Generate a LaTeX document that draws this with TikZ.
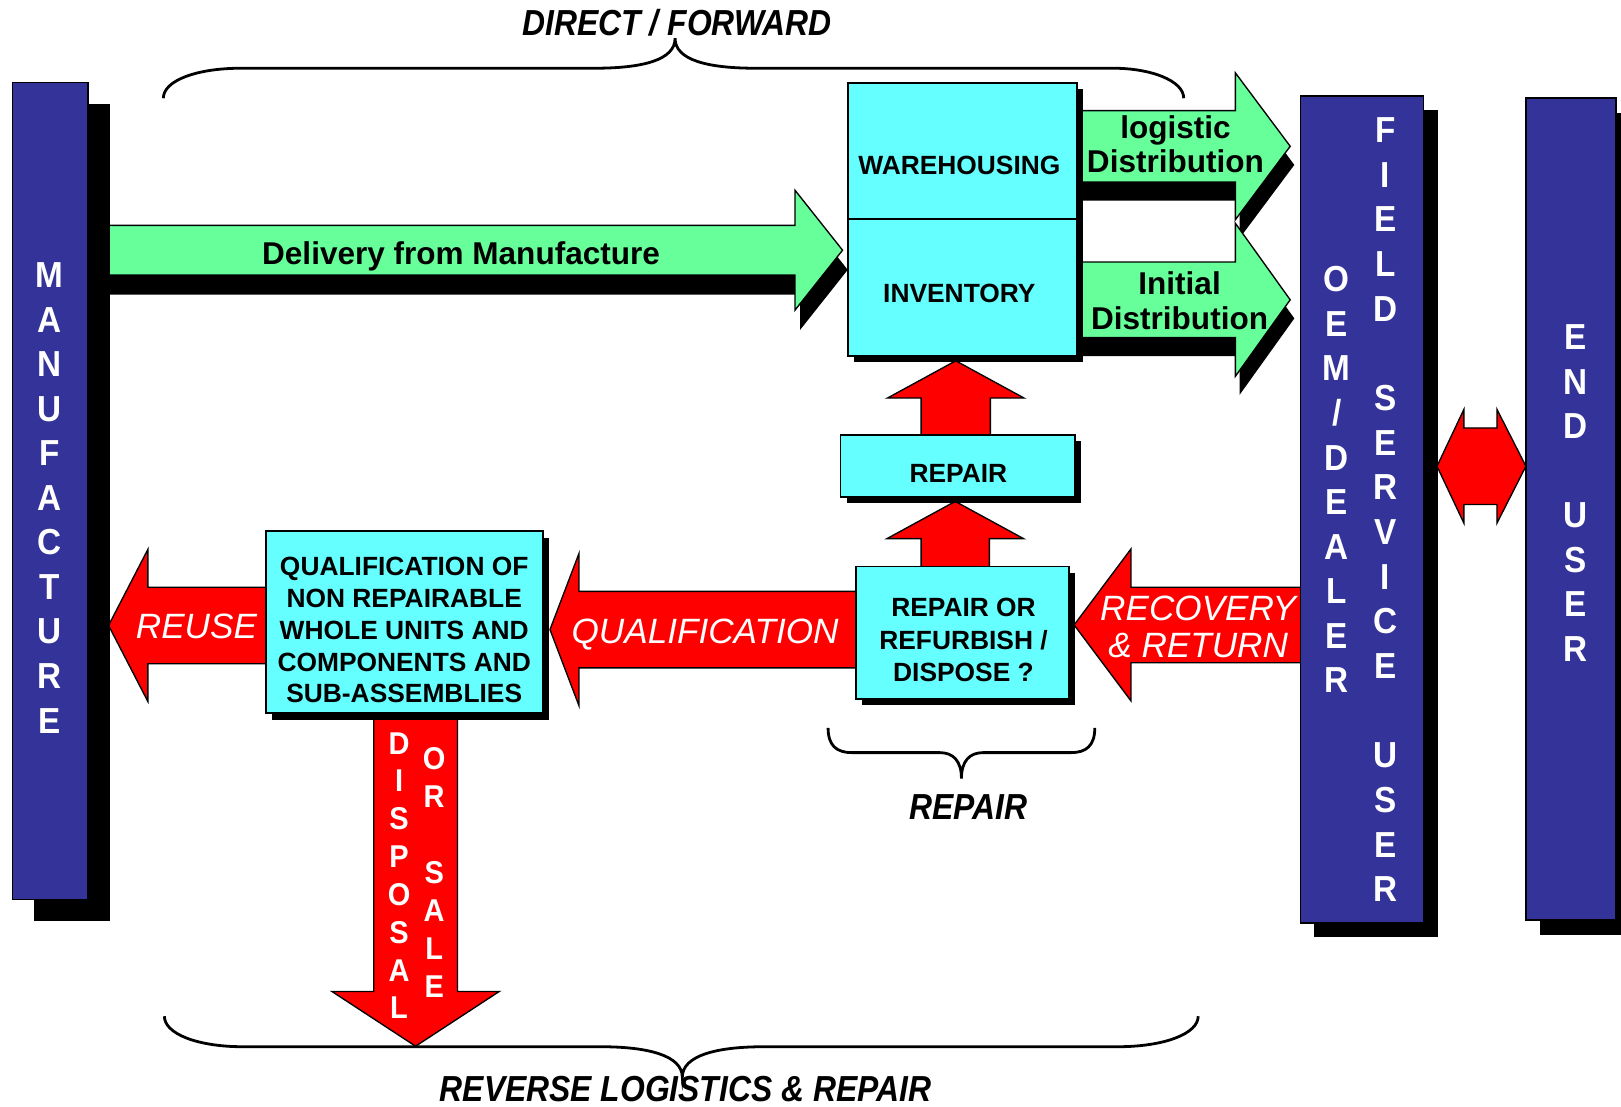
\documentclass[tikz,border=0pt]{standalone}
\usepackage{fontspec}
\setmainfont{Liberation Sans}
\newfontfamily\tallsans[FakeStretch=0.92]{Liberation Sans}
\newfontfamily\narrowsans[FakeStretch=0.88]{Liberation Sans}
\definecolor{navyfill}{HTML}{333399}
\definecolor{cyanfill}{HTML}{66FFFF}
\definecolor{greenfill}{HTML}{66FF99}

% horizontal block arrow: style, tail x, head base x, tip x, centre y, body half, head half
\newcommand{\blockarrowH}[7]{%
  \path[#1] (#2,{#5-#6}) -- (#3,{#5-#6}) -- (#3,{#5-#7}) -- (#4,#5)
    -- (#3,{#5+#7}) -- (#3,{#5+#6}) -- (#2,{#5+#6}) -- cycle;}
% vertical block arrow: style, tail y, head base y, tip y, centre x, body half, head half
\newcommand{\blockarrowV}[7]{%
  \path[#1] ({#5-#6},#2) -- ({#5-#6},#3) -- ({#5-#7},#3) -- (#5,#4)
    -- ({#5+#7},#3) -- ({#5+#6},#3) -- ({#5+#6},#2) -- cycle;}
% panel with a solid black drop shadow: name, style, x1, y1, x2, y2, shadow offset
\newcommand{\panelbox}[7]{%
  \fill[black] ({#3+#7},{#4+#7}) rectangle ({#5+#7},{#6+#7});
  \node[#2, minimum width={#5-#3}, minimum height={#6-#4}] (#1)
    at ({(#3+#5)/2},{(#4+#6)/2}) {};}

\begin{document}
\begin{tikzpicture}[x=1pt, y=-1pt, line join=miter,
  greenarrow/.style={fill=greenfill, draw=black, line width=1.3},
  redarrow/.style={fill=red, draw=black, line width=1.3},
  shadowfill/.style={fill=black},
  cbox/.style={draw=black, line width=1.8, fill=cyanfill, inner sep=0, outer sep=0},
  nbox/.style={draw=black, line width=1.5, fill=navyfill, inner sep=0, outer sep=0},
  bracestroke/.style={draw=black, line width=2.7},
  bracelabel/.style={font=\narrowsans\bfseries\itshape\fontsize{35}{42}\selectfont, inner sep=0},
  boxtext/.style={font=\bfseries\fontsize{25.5}{30.8}\selectfont, align=center, inner sep=0},
  gtext/.style={font=\bfseries\fontsize{30.5}{33.5}\selectfont, align=center, inner sep=0},
  wtext/.style={text=white, font=\itshape\fontsize{34}{36.5}\selectfont, align=center, inner sep=0},
  vtext/.style={text=white, font=\tallsans\bfseries\fontsize{35}{43.1}\selectfont, align=center, inner sep=0},
  vtextsmall/.style={text=white, font=\tallsans\bfseries\fontsize{30.5}{36.8}\selectfont, align=center, inner sep=0}]
\useasboundingbox (0,0) rectangle (1568,1070);

% ---- green forward arrows with their shadows
\blockarrowH{shadowfill, shift={(5,19)}}{95}{769}{815}{242}{24}{58}
\blockarrowH{greenarrow}{95}{769}{815}{242}{24}{58}
\blockarrowH{shadowfill, shift={(4,18)}}{1040}{1195}{1248}{141.5}{34.5}{71}
\blockarrowH{greenarrow}{1040}{1195}{1248}{141.5}{34.5}{71}
\blockarrowH{shadowfill, shift={(4,18)}}{1040}{1195}{1248}{290}{36.5}{74}
\blockarrowH{greenarrow}{1040}{1195}{1248}{290}{36.5}{74}

% ---- red reverse arrows
\blockarrowH{redarrow}{262}{143}{105}{605}{37}{73.5}
\blockarrowH{redarrow}{835}{560}{532}{609}{37}{73.5}
\blockarrowH{redarrow}{1265}{1094}{1039}{604.5}{36.5}{73.5}
\blockarrowV{redarrow}{690}{959}{1012}{402}{40.5}{81}
\blockarrowV{redarrow}{425}{385}{349}{924.5}{33.5}{66}
\blockarrowV{redarrow}{552}{521}{485}{924}{33}{66}
\path[redarrow] (1390,451) -- (1416,396) -- (1416,414) -- (1448,414) -- (1448,396)
  -- (1476,451) -- (1448,506) -- (1448,488) -- (1416,488) -- (1416,506) -- cycle;

% ---- panels
\panelbox{mfg}{nbox}{12}{80}{85}{870}{21}
\panelbox{oem}{nbox}{1258}{93}{1377}{893}{13.5}
\panelbox{enduser}{nbox}{1476}{95}{1563}{890}{14}
\panelbox{wh}{cbox}{820}{80}{1042}{344}{6}
\draw[line width=1.8] (wh.west) -- (wh.east);
\panelbox{repair}{cbox}{813}{421}{1040}{481}{6}
\panelbox{decide}{cbox}{828}{548}{1034}{676}{6}
\panelbox{qual}{cbox}{257}{514}{525}{690}{6}

% ---- panel and arrow texts
\node[boxtext] (whtext) at (928,160) {WAREHOUSING};
\node[boxtext] (invtext) at (928,284) {INVENTORY};
\node[boxtext] (repairtext) at (927,458) {REPAIR};
\node[boxtext, font=\bfseries\fontsize{25.5}{31}\selectfont] (decidetext) at (932,619)
  {REPAIR OR\\REFURBISH /\\DISPOSE ?};
\node[boxtext] (qualtext) at (391,609.5)
  {QUALIFICATION OF\\NON REPAIRABLE\\WHOLE UNITS AND\\COMPONENTS AND\\SUB-ASSEMBLIES};

\node[gtext, anchor=base] (delivtext) at (446,256) {Delivery from Manufacture};
\node[gtext] (logtext) at (1137,139.5) {logistic\\Distribution};
\node[gtext] (inittext) at (1141,291) {Initial\\Distribution};

\node[wtext, anchor=base] (reusetext) at (190,618) {REUSE};
\node[wtext, anchor=base] (qualarrowtext) at (682,622) {QUALIFICATION};
\node[wtext] (recovtext) at (1159,606.5) {RECOVERY\\\& RETURN};

\node[vtext] (mfgtext) at (48,481.5) {M\\A\\N\\U\\F\\A\\C\\T\\U\\R\\E};
\node[vtext] (oemtext) at (1293,464) {O\\E\\M\\/\\D\\E\\A\\L\\E\\R};
\node[vtext, font=\tallsans\bfseries\fontsize{35}{43.2}\selectfont] (fieldtext) at (1340,493)
  {F\\I\\E\\L\\D\\~\\S\\E\\R\\V\\I\\C\\E\\~\\U\\S\\E\\R};
\node[vtext] (endtext) at (1524,477) {E\\N\\D\\~\\U\\S\\E\\R};
\node[vtextsmall, font=\tallsans\bfseries\fontsize{30.5}{36.6}\selectfont] (disptext) at (386,847)
  {D\\I\\S\\P\\O\\S\\A\\L};
\node[vtextsmall] (saletext) at (420,844) {O\\R\\~\\S\\A\\L\\E};

% ---- braces and their labels
\path[bracestroke] (158,95) .. controls (158,78) and (190,66) .. (233,66) -- (575,66)
  .. controls (622,66) and (653,58) .. (653,37)
  .. controls (653,58) and (684,66) .. (731,66) -- (1077,66)
  .. controls (1113,66) and (1145,78) .. (1145,95);
\node[bracelabel, anchor=base] (fwdlabel) at (655,34) {DIRECT / FORWARD};

\path[bracestroke] (801,704) .. controls (801,721) and (809,728) .. (824,728) -- (909,728)
  .. controls (922,728) and (930,736) .. (930,753)
  .. controls (930,736) and (938,728) .. (951,728) -- (1036,728)
  .. controls (1051,728) and (1059,721) .. (1059,704);
\node[bracelabel, anchor=base] (repairlabel) at (937,793) {REPAIR};

\path[bracestroke] (159,983) .. controls (159,1000) and (191,1012.5) .. (235,1012.5) -- (581,1012.5)
  .. controls (627,1012.5) and (660,1021) .. (660,1042)
  .. controls (660,1021) and (693,1012.5) .. (739,1012.5) -- (1081,1012.5)
  .. controls (1126,1012.5) and (1159,1000) .. (1159,983);
\node[bracelabel, anchor=base] (revlabel) at (663,1065) {REVERSE LOGISTICS \& REPAIR};
\end{tikzpicture}
\end{document}
